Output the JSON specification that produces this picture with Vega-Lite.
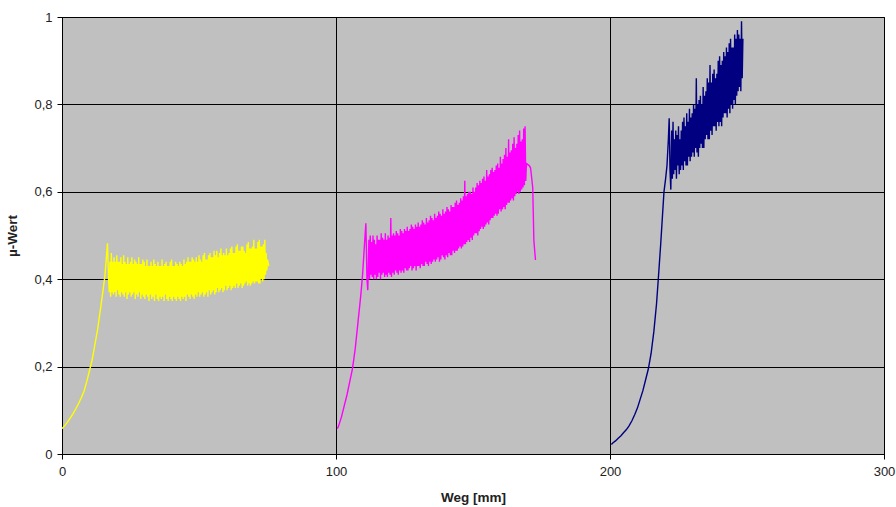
{
  "$schema": "https://vega.github.io/schema/vega-lite/v6.json",
  "width": 822,
  "height": 437,
  "autosize": {"type": "none"},
  "padding": {"left": 62, "top": 17, "right": 12, "bottom": 53},
  "background": "white",
  "config": {
    "view": {"fill": "#C0C0C0", "stroke": "black", "strokeWidth": 1},
    "font": "Liberation Sans",
    "axis": {
      "labelFont": "Liberation Sans", "labelFontSize": 13, "labelColor": "#222",
      "titleFont": "Liberation Sans", "titleFontSize": 13.5, "titleFontWeight": "bold", "titleColor": "#222",
      "domainColor": "black", "tickColor": "black", "tickSize": 5,
      "gridColor": "black", "gridOpacity": 1, "gridWidth": 1
    }
  },
  "data": {"values": [
{"s":"a","x":0,"y":0.058},{"s":"a","x":1,"y":0.065},{"s":"a","x":2,"y":0.073},{"s":"a","x":3,"y":0.082},{"s":"a","x":4,"y":0.092},{"s":"a","x":5,"y":0.103},{"s":"a","x":6,"y":0.115},{"s":"a","x":7,"y":0.128},{"s":"a","x":8,"y":0.143},{"s":"a","x":9,"y":0.165},{"s":"a","x":10,"y":0.19},{"s":"a","x":11,"y":0.215},{"s":"a","x":12,"y":0.25},{"s":"a","x":13,"y":0.285},{"s":"a","x":14,"y":0.33},{"s":"a","x":15,"y":0.375},{"s":"a","x":15.7,"y":0.41},{"s":"a","x":16.2,"y":0.45},{"s":"a","x":16.6,"y":0.482},{"s":"a","x":17.0,"y":0.40},
{"s":"a","x":17.25,"y":0.37},{"s":"a","x":17.5,"y":0.44},{"s":"a","x":17.75,"y":0.36},
{"s":"a","x":18,"y":0.46},{"s":"a","x":18.25,"y":0.37},{"s":"a","x":18.5,"y":0.44},{"s":"a","x":18.75,"y":0.365},
{"s":"a","x":19,"y":0.45},{"s":"a","x":19.25,"y":0.37},{"s":"a","x":19.5,"y":0.44},{"s":"a","x":19.75,"y":0.36},
{"s":"a","x":20,"y":0.455},{"s":"a","x":20.25,"y":0.375},{"s":"a","x":20.5,"y":0.44},{"s":"a","x":20.75,"y":0.365},
{"s":"a","x":21,"y":0.44},{"s":"a","x":21.25,"y":0.36},{"s":"a","x":21.5,"y":0.45},{"s":"a","x":21.75,"y":0.37},
{"s":"a","x":22,"y":0.435},{"s":"a","x":22.25,"y":0.365},{"s":"a","x":22.5,"y":0.455},{"s":"a","x":22.75,"y":0.36},
{"s":"a","x":23,"y":0.44},{"s":"a","x":23.25,"y":0.37},{"s":"a","x":23.5,"y":0.435},{"s":"a","x":23.75,"y":0.355},
{"s":"a","x":24,"y":0.45},{"s":"a","x":24.25,"y":0.365},{"s":"a","x":24.5,"y":0.435},{"s":"a","x":24.75,"y":0.37},
{"s":"a","x":25,"y":0.44},{"s":"a","x":25.25,"y":0.36},{"s":"a","x":25.5,"y":0.45},{"s":"a","x":25.75,"y":0.365},
{"s":"a","x":26,"y":0.435},{"s":"a","x":26.25,"y":0.37},{"s":"a","x":26.5,"y":0.445},{"s":"a","x":26.75,"y":0.355},
{"s":"a","x":27,"y":0.44},{"s":"a","x":27.25,"y":0.365},{"s":"a","x":27.5,"y":0.435},{"s":"a","x":27.75,"y":0.36},
{"s":"a","x":28,"y":0.45},{"s":"a","x":28.25,"y":0.37},{"s":"a","x":28.5,"y":0.435},{"s":"a","x":28.75,"y":0.355},
{"s":"a","x":29,"y":0.435},{"s":"a","x":29.25,"y":0.365},{"s":"a","x":29.5,"y":0.445},{"s":"a","x":29.75,"y":0.36},
{"s":"a","x":30,"y":0.44},{"s":"a","x":30.25,"y":0.355},{"s":"a","x":30.5,"y":0.43},{"s":"a","x":30.75,"y":0.365},
{"s":"a","x":31,"y":0.445},{"s":"a","x":31.25,"y":0.36},{"s":"a","x":31.5,"y":0.43},{"s":"a","x":31.75,"y":0.35},
{"s":"a","x":32,"y":0.43},{"s":"a","x":32.25,"y":0.365},{"s":"a","x":32.5,"y":0.44},{"s":"a","x":32.75,"y":0.355},
{"s":"a","x":33,"y":0.43},{"s":"a","x":33.25,"y":0.36},{"s":"a","x":33.5,"y":0.445},{"s":"a","x":33.75,"y":0.35},
{"s":"a","x":34,"y":0.435},{"s":"a","x":34.25,"y":0.365},{"s":"a","x":34.5,"y":0.43},{"s":"a","x":34.75,"y":0.355},
{"s":"a","x":35,"y":0.44},{"s":"a","x":35.25,"y":0.35},{"s":"a","x":35.5,"y":0.43},{"s":"a","x":35.75,"y":0.36},
{"s":"a","x":36,"y":0.43},{"s":"a","x":36.25,"y":0.355},{"s":"a","x":36.5,"y":0.445},{"s":"a","x":36.75,"y":0.36},
{"s":"a","x":37,"y":0.43},{"s":"a","x":37.25,"y":0.35},{"s":"a","x":37.5,"y":0.435},{"s":"a","x":37.75,"y":0.365},
{"s":"a","x":38,"y":0.44},{"s":"a","x":38.25,"y":0.355},{"s":"a","x":38.5,"y":0.43},{"s":"a","x":38.75,"y":0.35},
{"s":"a","x":39,"y":0.43},{"s":"a","x":39.25,"y":0.36},{"s":"a","x":39.5,"y":0.44},{"s":"a","x":39.75,"y":0.355},
{"s":"a","x":40,"y":0.445},{"s":"a","x":40.25,"y":0.35},{"s":"a","x":40.5,"y":0.43},{"s":"a","x":40.75,"y":0.36},
{"s":"a","x":41,"y":0.43},{"s":"a","x":41.25,"y":0.355},{"s":"a","x":41.5,"y":0.44},{"s":"a","x":41.75,"y":0.35},
{"s":"a","x":42,"y":0.435},{"s":"a","x":42.25,"y":0.36},{"s":"a","x":42.5,"y":0.43},{"s":"a","x":42.75,"y":0.355},
{"s":"a","x":43,"y":0.44},{"s":"a","x":43.25,"y":0.35},{"s":"a","x":43.5,"y":0.435},{"s":"a","x":43.75,"y":0.36},
{"s":"a","x":44,"y":0.43},{"s":"a","x":44.25,"y":0.355},{"s":"a","x":44.5,"y":0.445},{"s":"a","x":44.75,"y":0.36},
{"s":"a","x":45,"y":0.435},{"s":"a","x":45.25,"y":0.35},{"s":"a","x":45.5,"y":0.44},{"s":"a","x":45.75,"y":0.365},
{"s":"a","x":46,"y":0.45},{"s":"a","x":46.25,"y":0.36},{"s":"a","x":46.5,"y":0.44},{"s":"a","x":46.75,"y":0.355},
{"s":"a","x":47,"y":0.44},{"s":"a","x":47.25,"y":0.365},{"s":"a","x":47.5,"y":0.45},{"s":"a","x":47.75,"y":0.36},
{"s":"a","x":48,"y":0.445},{"s":"a","x":48.25,"y":0.355},{"s":"a","x":48.5,"y":0.44},{"s":"a","x":48.75,"y":0.365},
{"s":"a","x":49,"y":0.45},{"s":"a","x":49.25,"y":0.36},{"s":"a","x":49.5,"y":0.44},{"s":"a","x":49.75,"y":0.37},
{"s":"a","x":50,"y":0.455},{"s":"a","x":50.25,"y":0.36},{"s":"a","x":50.5,"y":0.445},{"s":"a","x":50.75,"y":0.365},
{"s":"a","x":51,"y":0.44},{"s":"a","x":51.25,"y":0.37},{"s":"a","x":51.5,"y":0.455},{"s":"a","x":51.75,"y":0.36},
{"s":"a","x":52,"y":0.46},{"s":"a","x":52.25,"y":0.365},{"s":"a","x":52.5,"y":0.445},{"s":"a","x":52.75,"y":0.37},
{"s":"a","x":53,"y":0.445},{"s":"a","x":53.25,"y":0.36},{"s":"a","x":53.5,"y":0.455},{"s":"a","x":53.75,"y":0.375},
{"s":"a","x":54,"y":0.46},{"s":"a","x":54.25,"y":0.365},{"s":"a","x":54.5,"y":0.45},{"s":"a","x":54.75,"y":0.37},
{"s":"a","x":55,"y":0.45},{"s":"a","x":55.25,"y":0.375},{"s":"a","x":55.5,"y":0.465},{"s":"a","x":55.75,"y":0.365},
{"s":"a","x":56,"y":0.455},{"s":"a","x":56.25,"y":0.37},{"s":"a","x":56.5,"y":0.465},{"s":"a","x":56.75,"y":0.38},
{"s":"a","x":57,"y":0.45},{"s":"a","x":57.25,"y":0.37},{"s":"a","x":57.5,"y":0.46},{"s":"a","x":57.75,"y":0.375},
{"s":"a","x":58,"y":0.47},{"s":"a","x":58.25,"y":0.38},{"s":"a","x":58.5,"y":0.455},{"s":"a","x":58.75,"y":0.37},
{"s":"a","x":59,"y":0.46},{"s":"a","x":59.25,"y":0.375},{"s":"a","x":59.5,"y":0.455},{"s":"a","x":59.75,"y":0.385},
{"s":"a","x":60,"y":0.47},{"s":"a","x":60.25,"y":0.375},{"s":"a","x":60.5,"y":0.455},{"s":"a","x":60.75,"y":0.38},
{"s":"a","x":61,"y":0.46},{"s":"a","x":61.25,"y":0.385},{"s":"a","x":61.5,"y":0.47},{"s":"a","x":61.75,"y":0.375},
{"s":"a","x":62,"y":0.475},{"s":"a","x":62.25,"y":0.38},{"s":"a","x":62.5,"y":0.46},{"s":"a","x":62.75,"y":0.385},
{"s":"a","x":63,"y":0.46},{"s":"a","x":63.25,"y":0.38},{"s":"a","x":63.5,"y":0.475},{"s":"a","x":63.75,"y":0.39},
{"s":"a","x":64,"y":0.48},{"s":"a","x":64.25,"y":0.38},{"s":"a","x":64.5,"y":0.465},{"s":"a","x":64.75,"y":0.385},
{"s":"a","x":65,"y":0.465},{"s":"a","x":65.25,"y":0.39},{"s":"a","x":65.5,"y":0.475},{"s":"a","x":65.75,"y":0.38},
{"s":"a","x":66,"y":0.475},{"s":"a","x":66.25,"y":0.385},{"s":"a","x":66.5,"y":0.465},{"s":"a","x":66.75,"y":0.39},
{"s":"a","x":67,"y":0.46},{"s":"a","x":67.25,"y":0.395},{"s":"a","x":67.5,"y":0.48},{"s":"a","x":67.75,"y":0.385},
{"s":"a","x":68,"y":0.485},{"s":"a","x":68.25,"y":0.39},{"s":"a","x":68.5,"y":0.47},{"s":"a","x":68.75,"y":0.385},
{"s":"a","x":69,"y":0.47},{"s":"a","x":69.25,"y":0.39},{"s":"a","x":69.5,"y":0.475},{"s":"a","x":69.75,"y":0.395},
{"s":"a","x":70,"y":0.49},{"s":"a","x":70.25,"y":0.39},{"s":"a","x":70.5,"y":0.47},{"s":"a","x":70.75,"y":0.395},
{"s":"a","x":71,"y":0.47},{"s":"a","x":71.25,"y":0.395},{"s":"a","x":71.5,"y":0.485},{"s":"a","x":71.75,"y":0.39},
{"s":"a","x":72,"y":0.49},{"s":"a","x":72.25,"y":0.39},{"s":"a","x":72.5,"y":0.475},{"s":"a","x":72.75,"y":0.40},
{"s":"a","x":73,"y":0.475},{"s":"a","x":73.25,"y":0.395},{"s":"a","x":73.5,"y":0.48},{"s":"a","x":73.75,"y":0.40},
{"s":"a","x":74,"y":0.49},{"s":"a","x":74.25,"y":0.41},{"s":"a","x":74.5,"y":0.46},{"s":"a","x":74.75,"y":0.42},
{"s":"a","x":75,"y":0.445},{"s":"a","x":75.5,"y":0.43},
{"s":"b","x":100.5,"y":0.058},{"s":"b","x":101,"y":0.065},{"s":"b","x":102,"y":0.085},{"s":"b","x":103,"y":0.11},{"s":"b","x":104,"y":0.135},{"s":"b","x":105,"y":0.165},{"s":"b","x":106,"y":0.195},{"s":"b","x":107,"y":0.24},{"s":"b","x":108,"y":0.30},{"s":"b","x":109,"y":0.36},{"s":"b","x":109.7,"y":0.41},{"s":"b","x":110.3,"y":0.47},{"s":"b","x":110.9,"y":0.528},{"s":"b","x":111.3,"y":0.40},{"s":"b","x":111.6,"y":0.375},
{"s":"b","x":112,"y":0.49},{"s":"b","x":112.25,"y":0.40},{"s":"b","x":112.5,"y":0.50},{"s":"b","x":112.75,"y":0.41},
{"s":"b","x":113,"y":0.485},{"s":"b","x":113.25,"y":0.405},{"s":"b","x":113.5,"y":0.50},{"s":"b","x":113.75,"y":0.40},
{"s":"b","x":114,"y":0.49},{"s":"b","x":114.25,"y":0.41},{"s":"b","x":114.5,"y":0.48},{"s":"b","x":114.75,"y":0.40},
{"s":"b","x":115,"y":0.50},{"s":"b","x":115.25,"y":0.405},{"s":"b","x":115.5,"y":0.49},{"s":"b","x":115.75,"y":0.415},
{"s":"b","x":116,"y":0.49},{"s":"b","x":116.25,"y":0.40},{"s":"b","x":116.5,"y":0.505},{"s":"b","x":116.75,"y":0.41},
{"s":"b","x":117,"y":0.495},{"s":"b","x":117.25,"y":0.415},{"s":"b","x":117.5,"y":0.49},{"s":"b","x":117.75,"y":0.405},
{"s":"b","x":118,"y":0.505},{"s":"b","x":118.25,"y":0.41},{"s":"b","x":118.5,"y":0.49},{"s":"b","x":118.75,"y":0.405},
{"s":"b","x":119,"y":0.50},{"s":"b","x":119.25,"y":0.415},{"s":"b","x":119.5,"y":0.495},{"s":"b","x":119.75,"y":0.41},
{"s":"b","x":120,"y":0.54},{"s":"b","x":120.25,"y":0.405},{"s":"b","x":120.5,"y":0.50},{"s":"b","x":120.75,"y":0.415},
{"s":"b","x":121,"y":0.505},{"s":"b","x":121.25,"y":0.41},{"s":"b","x":121.5,"y":0.50},{"s":"b","x":121.75,"y":0.42},
{"s":"b","x":122,"y":0.51},{"s":"b","x":122.25,"y":0.415},{"s":"b","x":122.5,"y":0.505},{"s":"b","x":122.75,"y":0.41},
{"s":"b","x":123,"y":0.50},{"s":"b","x":123.25,"y":0.42},{"s":"b","x":123.5,"y":0.515},{"s":"b","x":123.75,"y":0.415},
{"s":"b","x":124,"y":0.51},{"s":"b","x":124.25,"y":0.42},{"s":"b","x":124.5,"y":0.505},{"s":"b","x":124.75,"y":0.415},
{"s":"b","x":125,"y":0.515},{"s":"b","x":125.25,"y":0.425},{"s":"b","x":125.5,"y":0.51},{"s":"b","x":125.75,"y":0.42},
{"s":"b","x":126,"y":0.52},{"s":"b","x":126.25,"y":0.42},{"s":"b","x":126.5,"y":0.51},{"s":"b","x":126.75,"y":0.425},
{"s":"b","x":127,"y":0.515},{"s":"b","x":127.25,"y":0.43},{"s":"b","x":127.5,"y":0.525},{"s":"b","x":127.75,"y":0.42},
{"s":"b","x":128,"y":0.52},{"s":"b","x":128.25,"y":0.425},{"s":"b","x":128.5,"y":0.515},{"s":"b","x":128.75,"y":0.43},
{"s":"b","x":129,"y":0.525},{"s":"b","x":129.25,"y":0.42},{"s":"b","x":129.5,"y":0.52},{"s":"b","x":129.75,"y":0.43},
{"s":"b","x":130,"y":0.53},{"s":"b","x":130.25,"y":0.43},{"s":"b","x":130.5,"y":0.52},{"s":"b","x":130.75,"y":0.425},
{"s":"b","x":131,"y":0.525},{"s":"b","x":131.25,"y":0.435},{"s":"b","x":131.5,"y":0.535},{"s":"b","x":131.75,"y":0.43},
{"s":"b","x":132,"y":0.53},{"s":"b","x":132.25,"y":0.43},{"s":"b","x":132.5,"y":0.525},{"s":"b","x":132.75,"y":0.44},
{"s":"b","x":133,"y":0.54},{"s":"b","x":133.25,"y":0.435},{"s":"b","x":133.5,"y":0.53},{"s":"b","x":133.75,"y":0.43},
{"s":"b","x":134,"y":0.535},{"s":"b","x":134.25,"y":0.44},{"s":"b","x":134.5,"y":0.545},{"s":"b","x":134.75,"y":0.435},
{"s":"b","x":135,"y":0.54},{"s":"b","x":135.25,"y":0.44},{"s":"b","x":135.5,"y":0.535},{"s":"b","x":135.75,"y":0.445},
{"s":"b","x":136,"y":0.55},{"s":"b","x":136.25,"y":0.44},{"s":"b","x":136.5,"y":0.54},{"s":"b","x":136.75,"y":0.445},
{"s":"b","x":137,"y":0.545},{"s":"b","x":137.25,"y":0.45},{"s":"b","x":137.5,"y":0.555},{"s":"b","x":137.75,"y":0.44},
{"s":"b","x":138,"y":0.55},{"s":"b","x":138.25,"y":0.445},{"s":"b","x":138.5,"y":0.545},{"s":"b","x":138.75,"y":0.455},
{"s":"b","x":139,"y":0.56},{"s":"b","x":139.25,"y":0.45},{"s":"b","x":139.5,"y":0.55},{"s":"b","x":139.75,"y":0.445},
{"s":"b","x":140,"y":0.555},{"s":"b","x":140.25,"y":0.455},{"s":"b","x":140.5,"y":0.565},{"s":"b","x":140.75,"y":0.45},
{"s":"b","x":141,"y":0.56},{"s":"b","x":141.25,"y":0.46},{"s":"b","x":141.5,"y":0.555},{"s":"b","x":141.75,"y":0.455},
{"s":"b","x":142,"y":0.57},{"s":"b","x":142.25,"y":0.455},{"s":"b","x":142.5,"y":0.565},{"s":"b","x":142.75,"y":0.465},
{"s":"b","x":143,"y":0.565},{"s":"b","x":143.25,"y":0.46},{"s":"b","x":143.5,"y":0.575},{"s":"b","x":143.75,"y":0.465},
{"s":"b","x":144,"y":0.58},{"s":"b","x":144.25,"y":0.465},{"s":"b","x":144.5,"y":0.57},{"s":"b","x":144.75,"y":0.47},
{"s":"b","x":145,"y":0.575},{"s":"b","x":145.25,"y":0.475},{"s":"b","x":145.5,"y":0.585},{"s":"b","x":145.75,"y":0.47},
{"s":"b","x":146,"y":0.58},{"s":"b","x":146.25,"y":0.475},{"s":"b","x":146.5,"y":0.59},{"s":"b","x":146.75,"y":0.48},
{"s":"b","x":147,"y":0.625},{"s":"b","x":147.25,"y":0.48},{"s":"b","x":147.5,"y":0.59},{"s":"b","x":147.75,"y":0.485},
{"s":"b","x":148,"y":0.595},{"s":"b","x":148.25,"y":0.49},{"s":"b","x":148.5,"y":0.60},{"s":"b","x":148.75,"y":0.485},
{"s":"b","x":149,"y":0.60},{"s":"b","x":149.25,"y":0.495},{"s":"b","x":149.5,"y":0.595},{"s":"b","x":149.75,"y":0.49},
{"s":"b","x":150,"y":0.61},{"s":"b","x":150.25,"y":0.50},{"s":"b","x":150.5,"y":0.60},{"s":"b","x":150.75,"y":0.505},
{"s":"b","x":151,"y":0.61},{"s":"b","x":151.25,"y":0.505},{"s":"b","x":151.5,"y":0.62},{"s":"b","x":151.75,"y":0.50},
{"s":"b","x":152,"y":0.615},{"s":"b","x":152.25,"y":0.51},{"s":"b","x":152.5,"y":0.625},{"s":"b","x":152.75,"y":0.515},
{"s":"b","x":153,"y":0.62},{"s":"b","x":153.25,"y":0.52},{"s":"b","x":153.5,"y":0.63},{"s":"b","x":153.75,"y":0.515},
{"s":"b","x":154,"y":0.635},{"s":"b","x":154.25,"y":0.52},{"s":"b","x":154.5,"y":0.625},{"s":"b","x":154.75,"y":0.525},
{"s":"b","x":155,"y":0.65},{"s":"b","x":155.25,"y":0.53},{"s":"b","x":155.5,"y":0.635},{"s":"b","x":155.75,"y":0.525},
{"s":"b","x":156,"y":0.64},{"s":"b","x":156.25,"y":0.535},{"s":"b","x":156.5,"y":0.65},{"s":"b","x":156.75,"y":0.54},
{"s":"b","x":157,"y":0.655},{"s":"b","x":157.25,"y":0.54},{"s":"b","x":157.5,"y":0.645},{"s":"b","x":157.75,"y":0.545},
{"s":"b","x":158,"y":0.65},{"s":"b","x":158.25,"y":0.55},{"s":"b","x":158.5,"y":0.66},{"s":"b","x":158.75,"y":0.545},
{"s":"b","x":159,"y":0.665},{"s":"b","x":159.25,"y":0.55},{"s":"b","x":159.5,"y":0.655},{"s":"b","x":159.75,"y":0.56},
{"s":"b","x":160,"y":0.68},{"s":"b","x":160.25,"y":0.555},{"s":"b","x":160.5,"y":0.665},{"s":"b","x":160.75,"y":0.56},
{"s":"b","x":161,"y":0.675},{"s":"b","x":161.25,"y":0.565},{"s":"b","x":161.5,"y":0.685},{"s":"b","x":161.75,"y":0.56},
{"s":"b","x":162,"y":0.70},{"s":"b","x":162.25,"y":0.57},{"s":"b","x":162.5,"y":0.68},{"s":"b","x":162.75,"y":0.575},
{"s":"b","x":163,"y":0.72},{"s":"b","x":163.25,"y":0.575},{"s":"b","x":163.5,"y":0.69},{"s":"b","x":163.75,"y":0.58},
{"s":"b","x":164,"y":0.695},{"s":"b","x":164.25,"y":0.585},{"s":"b","x":164.5,"y":0.71},{"s":"b","x":164.75,"y":0.58},
{"s":"b","x":165,"y":0.725},{"s":"b","x":165.25,"y":0.59},{"s":"b","x":165.5,"y":0.70},{"s":"b","x":165.75,"y":0.595},
{"s":"b","x":166,"y":0.71},{"s":"b","x":166.25,"y":0.60},{"s":"b","x":166.5,"y":0.73},{"s":"b","x":166.75,"y":0.595},
{"s":"b","x":167,"y":0.74},{"s":"b","x":167.25,"y":0.60},{"s":"b","x":167.5,"y":0.715},{"s":"b","x":167.75,"y":0.605},
{"s":"b","x":168,"y":0.72},{"s":"b","x":168.25,"y":0.61},{"s":"b","x":168.5,"y":0.745},{"s":"b","x":168.75,"y":0.615},
{"s":"b","x":169,"y":0.75},{"s":"b","x":169.25,"y":0.625},{"s":"b","x":169.5,"y":0.665},{"s":"b","x":170.5,"y":0.66},{"s":"b","x":171.0,"y":0.655},{"s":"b","x":171.8,"y":0.61},{"s":"b","x":172.2,"y":0.49},{"s":"b","x":172.8,"y":0.444},
{"s":"c","x":200.5,"y":0.022},{"s":"c","x":201,"y":0.025},{"s":"c","x":202,"y":0.03},{"s":"c","x":203,"y":0.036},{"s":"c","x":204,"y":0.042},{"s":"c","x":205,"y":0.049},{"s":"c","x":206,"y":0.056},{"s":"c","x":207,"y":0.065},{"s":"c","x":208,"y":0.076},{"s":"c","x":209,"y":0.09},{"s":"c","x":210,"y":0.105},{"s":"c","x":211,"y":0.125},{"s":"c","x":212,"y":0.145},{"s":"c","x":213,"y":0.17},{"s":"c","x":214,"y":0.195},{"s":"c","x":215,"y":0.23},{"s":"c","x":216,"y":0.28},{"s":"c","x":217,"y":0.345},{"s":"c","x":217.6,"y":0.398},{"s":"c","x":218.5,"y":0.48},{"s":"c","x":219.2,"y":0.55},{"s":"c","x":219.7,"y":0.60},{"s":"c","x":220.3,"y":0.63},{"s":"c","x":220.8,"y":0.66},{"s":"c","x":221.3,"y":0.72},{"s":"c","x":221.6,"y":0.768},{"s":"c","x":221.9,"y":0.65},{"s":"c","x":222.2,"y":0.605},
{"s":"c","x":222.5,"y":0.74},{"s":"c","x":222.75,"y":0.63},
{"s":"c","x":223,"y":0.76},{"s":"c","x":223.25,"y":0.64},{"s":"c","x":223.5,"y":0.72},{"s":"c","x":223.75,"y":0.65},
{"s":"c","x":224,"y":0.74},{"s":"c","x":224.25,"y":0.63},{"s":"c","x":224.5,"y":0.73},{"s":"c","x":224.75,"y":0.66},
{"s":"c","x":225,"y":0.75},{"s":"c","x":225.25,"y":0.64},{"s":"c","x":225.5,"y":0.72},{"s":"c","x":225.75,"y":0.65},
{"s":"c","x":226,"y":0.74},{"s":"c","x":226.25,"y":0.66},{"s":"c","x":226.5,"y":0.76},{"s":"c","x":226.75,"y":0.65},
{"s":"c","x":227,"y":0.77},{"s":"c","x":227.25,"y":0.67},{"s":"c","x":227.5,"y":0.75},{"s":"c","x":227.75,"y":0.66},
{"s":"c","x":228,"y":0.78},{"s":"c","x":228.25,"y":0.66},{"s":"c","x":228.5,"y":0.76},{"s":"c","x":228.75,"y":0.68},
{"s":"c","x":229,"y":0.79},{"s":"c","x":229.25,"y":0.67},{"s":"c","x":229.5,"y":0.77},{"s":"c","x":229.75,"y":0.68},
{"s":"c","x":230,"y":0.78},{"s":"c","x":230.25,"y":0.69},{"s":"c","x":230.5,"y":0.80},{"s":"c","x":230.75,"y":0.68},
{"s":"c","x":231,"y":0.79},{"s":"c","x":231.25,"y":0.70},{"s":"c","x":231.5,"y":0.86},{"s":"c","x":231.75,"y":0.69},
{"s":"c","x":232,"y":0.80},{"s":"c","x":232.25,"y":0.68},{"s":"c","x":232.5,"y":0.81},{"s":"c","x":232.75,"y":0.70},
{"s":"c","x":233,"y":0.82},{"s":"c","x":233.25,"y":0.71},{"s":"c","x":233.5,"y":0.80},{"s":"c","x":233.75,"y":0.70},
{"s":"c","x":234,"y":0.84},{"s":"c","x":234.25,"y":0.70},{"s":"c","x":234.5,"y":0.82},{"s":"c","x":234.75,"y":0.72},
{"s":"c","x":235,"y":0.83},{"s":"c","x":235.25,"y":0.73},{"s":"c","x":235.5,"y":0.86},{"s":"c","x":235.75,"y":0.72},
{"s":"c","x":236,"y":0.85},{"s":"c","x":236.25,"y":0.72},{"s":"c","x":236.5,"y":0.89},{"s":"c","x":236.75,"y":0.74},
{"s":"c","x":237,"y":0.85},{"s":"c","x":237.25,"y":0.73},{"s":"c","x":237.5,"y":0.87},{"s":"c","x":237.75,"y":0.75},
{"s":"c","x":238,"y":0.88},{"s":"c","x":238.25,"y":0.75},{"s":"c","x":238.5,"y":0.86},{"s":"c","x":238.75,"y":0.74},
{"s":"c","x":239,"y":0.87},{"s":"c","x":239.25,"y":0.76},{"s":"c","x":239.5,"y":0.90},{"s":"c","x":239.75,"y":0.75},
{"s":"c","x":240,"y":0.91},{"s":"c","x":240.25,"y":0.76},{"s":"c","x":240.5,"y":0.89},{"s":"c","x":240.75,"y":0.75},
{"s":"c","x":241,"y":0.90},{"s":"c","x":241.25,"y":0.77},{"s":"c","x":241.5,"y":0.92},{"s":"c","x":241.75,"y":0.78},
{"s":"c","x":242,"y":0.91},{"s":"c","x":242.25,"y":0.78},{"s":"c","x":242.5,"y":0.93},{"s":"c","x":242.75,"y":0.77},
{"s":"c","x":243,"y":0.92},{"s":"c","x":243.25,"y":0.79},{"s":"c","x":243.5,"y":0.94},{"s":"c","x":243.75,"y":0.78},
{"s":"c","x":244,"y":0.95},{"s":"c","x":244.25,"y":0.80},{"s":"c","x":244.5,"y":0.93},{"s":"c","x":244.75,"y":0.79},
{"s":"c","x":245,"y":0.93},{"s":"c","x":245.25,"y":0.81},{"s":"c","x":245.5,"y":0.96},{"s":"c","x":245.75,"y":0.80},
{"s":"c","x":246,"y":0.95},{"s":"c","x":246.25,"y":0.82},{"s":"c","x":246.5,"y":0.97},{"s":"c","x":246.75,"y":0.83},
{"s":"c","x":247,"y":0.96},{"s":"c","x":247.25,"y":0.84},{"s":"c","x":247.5,"y":0.95},{"s":"c","x":247.75,"y":0.83},
{"s":"c","x":248,"y":0.99},{"s":"c","x":248.25,"y":0.86},{"s":"c","x":248.5,"y":0.95}
  ]},
  "mark": {"type": "line", "strokeWidth": 1.4, "clip": true},
  "encoding": {
    "x": {
      "field": "x", "type": "quantitative",
      "scale": {"domain": [0, 300], "nice": false, "zero": false},
      "axis": {"values": [0, 100, 200, 300], "title": "Weg [mm]", "labelPadding": 6, "titlePadding": 12, "grid": true, "labelFlush": false}
    },
    "y": {
      "field": "y", "type": "quantitative",
      "scale": {"domain": [0, 1], "nice": false},
      "axis": {"values": [0, 0.2, 0.4, 0.6, 0.8, 1], "title": "µ-Wert", "labelPadding": 5, "titlePadding": 14, "grid": true,
               "labelExpr": "replace(format(datum.value, '~g'), '.', ',')"}
    },
    "color": {
      "field": "s", "type": "nominal",
      "scale": {"domain": ["a", "b", "c"], "range": ["#FFFF00", "#FF00FF", "#000080"]},
      "legend": null
    }
  }
}
